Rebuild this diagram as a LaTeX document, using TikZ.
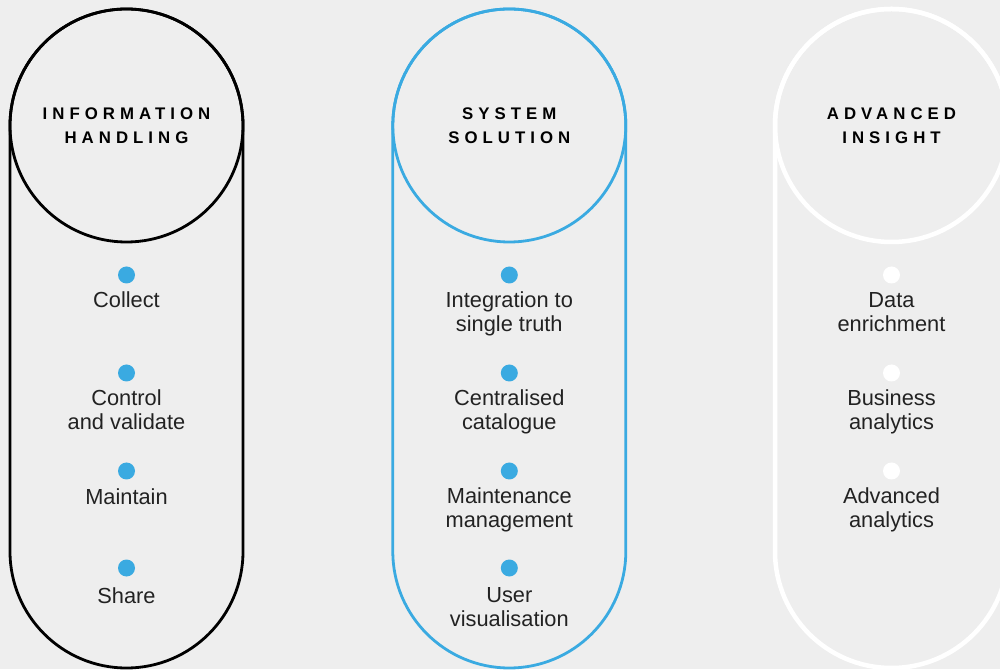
\documentclass[tikz,border=0pt]{standalone}
\usepackage{fontspec}
\setmainfont{Liberation Sans}
\newfontfamily\titlefont[LetterSpace=30]{Liberation Sans}
\definecolor{bg}{HTML}{EEEEEE}
\definecolor{accent}{HTML}{3AAAE1}
\definecolor{txt}{HTML}{222222}
\begin{document}
\begin{tikzpicture}[x=1pt,y=1pt,
  headcircle/.style={circle, minimum size=233pt, inner sep=0pt, align=center,
    font=\titlefont\fontsize{16.8}{24}\selectfont\bfseries, text=black},
  dotmark/.style={circle, minimum size=17pt, inner sep=0pt},
  itemtext/.style={align=center, inner sep=0pt, text=txt,
    font=\fontsize{21.8}{24}\selectfont}]
\useasboundingbox (0,0) rectangle (1000,669);
\fill[bg] (0,0) rectangle (1000,669);
\clip (0,0) rectangle (1000,669);

% ---- left column
\draw[black, line width=2.8pt] (10,543.5) -- (10,117.5) arc[start angle=180,end angle=360,radius=116.5] -- (243,543.5) arc[start angle=0,end angle=180,radius=116.5] -- cycle;
\node[headcircle, draw=black, line width=2.8pt] (h1) at (126.5,543.5) {INFORMATION\\HANDLING};
\node[dotmark, fill=accent] (a1) at (126.5,394) {};
\node[itemtext] (la1) at (126.5,369) {Collect};
\node[dotmark, fill=accent] (a2) at (126.5,296) {};
\node[itemtext, anchor=north] (la2) at (126.5,279) {Control\\and validate};
\node[dotmark, fill=accent] (a3) at (126.5,198) {};
\node[itemtext] (la3) at (126.5,172) {Maintain};
\node[dotmark, fill=accent] (a4) at (126.5,101) {};
\node[itemtext] (la4) at (126.5,73) {Share};

% ---- middle column
\draw[accent, line width=2.8pt] (392.8,543.5) -- (392.8,117.5) arc[start angle=180,end angle=360,radius=116.5] -- (625.8,543.5) arc[start angle=0,end angle=180,radius=116.5] -- cycle;
\node[headcircle, draw=accent, line width=2.8pt] (h2) at (509.3,543.5) {SYSTEM\\SOLUTION};
\node[dotmark, fill=accent] (b1) at (509.3,394) {};
\node[itemtext, anchor=north] (lb1) at (509.3,377) {Integration to\\single truth};
\node[dotmark, fill=accent] (b2) at (509.3,296) {};
\node[itemtext, anchor=north] (lb2) at (509.3,279) {Centralised\\catalogue};
\node[dotmark, fill=accent] (b3) at (509.3,198) {};
\node[itemtext, anchor=north] (lb3) at (509.3,181) {Maintenance\\management};
\node[dotmark, fill=accent] (b4) at (509.3,101) {};
\node[itemtext, anchor=north] (lb4) at (509.3,82) {User\\visualisation};

% ---- right column
\draw[white, line width=4.5pt] (775,543.5) -- (775,117.5) arc[start angle=180,end angle=360,radius=116.5] -- (1008,543.5) arc[start angle=0,end angle=180,radius=116.5] -- cycle;
\node[headcircle, draw=white, line width=4.5pt] (h3) at (891.5,543.5) {ADVANCED\\INSIGHT};
\node[dotmark, fill=white] (c1) at (891.5,394) {};
\node[itemtext, anchor=north] (lc1) at (891.5,377) {Data\\enrichment};
\node[dotmark, fill=white] (c2) at (891.5,296) {};
\node[itemtext, anchor=north] (lc2) at (891.5,279) {Business\\analytics};
\node[dotmark, fill=white] (c3) at (891.5,198) {};
\node[itemtext, anchor=north] (lc3) at (891.5,181) {Advanced\\analytics};
\end{tikzpicture}
\end{document}
